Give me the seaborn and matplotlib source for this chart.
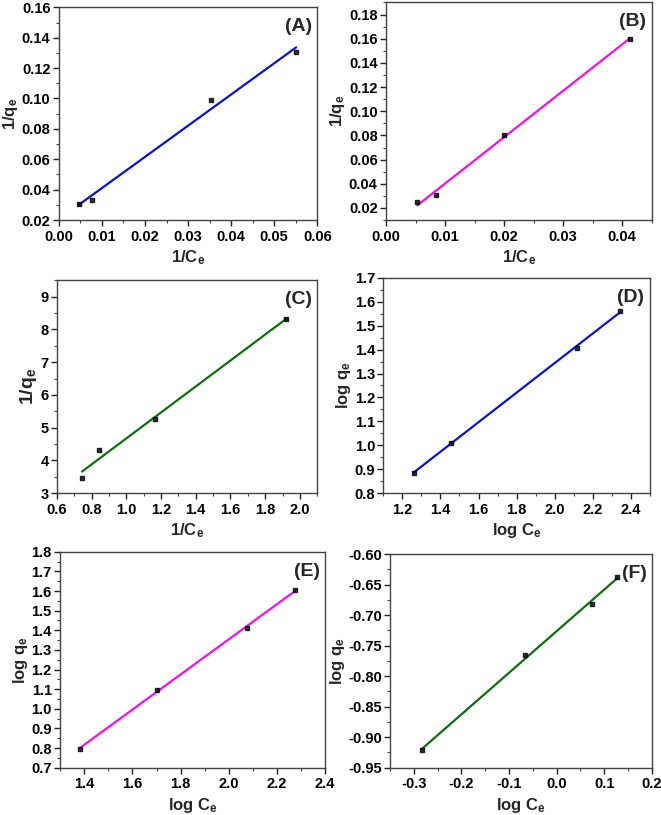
import numpy as np
import matplotlib
matplotlib.use("Agg")
import matplotlib.pyplot as plt
import seaborn as sns
from matplotlib.ticker import MultipleLocator, AutoMinorLocator

# Langmuir / Freundlich linear plots
a_x = [0.0047, 0.0077, 0.0353, 0.0551]
a_y = [0.0305, 0.0335, 0.0988, 0.1303]
b_x = [0.0053, 0.0085, 0.0200, 0.0413]
b_y = [0.0248, 0.0305, 0.0802, 0.1600]
c_x = [0.745, 0.843, 1.163, 1.922]
c_y = [3.45, 4.32, 5.25, 8.33]
d_x = [1.260, 1.453, 2.115, 2.342]
d_y = [0.885, 1.010, 1.405, 1.562]
e_x = [1.383, 1.700, 2.075, 2.275]
e_y = [0.797, 1.097, 1.410, 1.605]
f_x = [-0.283, -0.066, 0.074, 0.127]
f_y = [-0.921, -0.766, -0.681, -0.638]

sns.set_style("ticks")
plt.rcParams['font.family'] = ['Liberation Sans', 'DejaVu Sans']
plt.rcParams['font.weight'] = 'bold'
plt.rcParams['axes.unicode_minus'] = False
plt.rcParams['mathtext.fontset'] = 'custom'
plt.rcParams['mathtext.rm'] = 'Liberation Sans:bold'
plt.rcParams['mathtext.it'] = 'Liberation Sans:bold'
plt.rcParams['mathtext.bf'] = 'Liberation Sans:bold'
plt.rcParams['mathtext.default'] = 'rm'

fig = plt.figure(figsize=(6.61, 8.15), dpi=100)

panels = [
    # data, color, tag, xlab, ylab, xlim, ylim, xstep, ystep, ylab size, rect
    (a_x, a_y, "#0a14d0", "(A)", "1/C$_e$", "1/q$_e$", (0, 0.06), (0.02, 0.16), 0.01, 0.02, 12,
     [0.089, 0.730, 0.391, 0.261]),
    (b_x, b_y, "#ee10ee", "(B)", "1/C$_e$", "1/q$_e$", (0, 0.045), (0.01, 0.19), 0.01, 0.02, 12,
     [0.584, 0.730, 0.402, 0.267]),
    (c_x, c_y, "#0f6e0f", "(C)", "1/C$_e$", "1/q$_e$", (0.6, 2.1), (3, 9.5), 0.2, 1, 14,
     [0.086, 0.395, 0.394, 0.261]),
    (d_x, d_y, "#0a14d0", "(D)", "log C$_e$", "log q$_e$", (1.1, 2.5), (0.8, 1.7), 0.2, 0.1, 12,
     [0.580, 0.395, 0.403, 0.264]),
    (e_x, e_y, "#ee10ee", "(E)", "log C$_e$", "log q$_e$", (1.3, 2.4), (0.7, 1.8), 0.2, 0.1, 12,
     [0.091, 0.058, 0.401, 0.265]),
    (f_x, f_y, "#0f6e0f", "(F)", "log C$_e$", "log q$_e$", (-0.35, 0.2), (-0.95, -0.60), 0.1, 0.05, 12,
     [0.590, 0.058, 0.396, 0.262]),
]

for (xs, ys, col, tag, xlab, ylab, xlim, ylim, xstep, ystep, ysize, rect) in panels:
    ax = fig.add_axes(rect)
    sns.regplot(x=np.array(xs), y=np.array(ys), ax=ax, ci=None, marker='s',
                scatter_kws={'color': 'black', 's': 10, 'zorder': 3},
                line_kws={'color': col, 'lw': 1.6, 'zorder': 2})
    ax.set_xlim(*xlim)
    ax.set_ylim(*ylim)
    ax.xaxis.set_major_locator(MultipleLocator(xstep))
    ax.yaxis.set_major_locator(MultipleLocator(ystep))
    ax.xaxis.set_minor_locator(AutoMinorLocator(2))
    ax.yaxis.set_minor_locator(AutoMinorLocator(2))
    ax.tick_params(which='major', direction='out', length=4, width=1, pad=2, colors='#222222')
    ax.tick_params(axis='y', which='major', labelsize=10.5)
    ax.tick_params(axis='x', which='major', labelsize=10.5, pad=3)
    ax.tick_params(which='minor', direction='out', length=2, width=0.8, colors='#444444')
    for lbl in ax.get_xticklabels() + ax.get_yticklabels():
        lbl.set_fontweight('bold')
        lbl.set_color('black')
    for sp in ax.spines.values():
        sp.set_visible(True)
        sp.set_color('#444444')
        sp.set_linewidth(1.0)
    ax.set_xlabel(xlab, fontsize=12, fontweight='bold', labelpad=3)
    ax.set_ylabel(ylab, fontsize=ysize, fontweight='bold', labelpad=1)
    ax.text(0.98, 0.95, tag, transform=ax.transAxes, ha='right', va='top',
            fontsize=14, fontweight='bold')

fig.savefig("out.png", dpi=100)
